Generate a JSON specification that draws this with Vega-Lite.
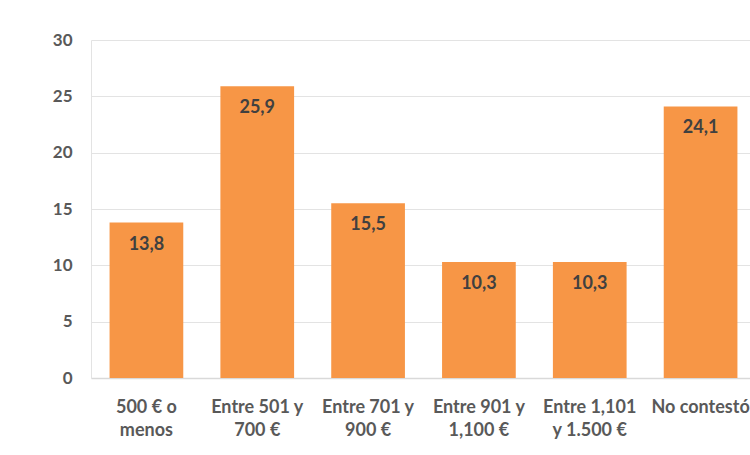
{
  "$schema": "https://vega.github.io/schema/vega-lite/v6.json",
  "autosize": {"type": "none"},
  "width": 659,
  "height": 338,
  "padding": {"left": 91, "top": 40, "right": 0, "bottom": 77},
  "background": "white",
  "config": {
    "locale": {"number": {"decimal": ",", "thousands": ".", "grouping": [3], "currency": ["", " €"]}},
    "view": {"stroke": null},
    "font": "Lato"
  },
  "data": {
    "values": [
      {"cat": "500 € o|menos", "value": 13.8},
      {"cat": "Entre 501 y|700 €", "value": 25.9},
      {"cat": "Entre 701 y|900 €", "value": 15.5},
      {"cat": "Entre 901 y|1,100 €", "value": 10.3},
      {"cat": "Entre 1,101|y 1.500 €", "value": 10.3},
      {"cat": "No contestó", "value": 24.1}
    ]
  },
  "encoding": {
    "x": {
      "field": "cat",
      "type": "nominal",
      "sort": null,
      "scale": {"range": [0, 665], "paddingInner": 0.335, "paddingOuter": 0.1675},
      "axis": {
        "title": null,
        "labelAngle": 0,
        "labelExpr": "split(datum.label, '|')",
        "labelFont": "Lato",
        "labelFontSize": 18,
        "labelFontWeight": "bold",
        "labelColor": "#595959",
        "labelPadding": 20,
        "labelLineHeight": 23,
        "labelBaseline": "top",
        "ticks": false,
        "domainColor": "#d9d9d9",
        "domainWidth": 1.5,
        "labelOverlap": false,
        "labelBound": false
      }
    },
    "y": {
      "field": "value",
      "type": "quantitative",
      "scale": {"domain": [0, 30]},
      "axis": {
        "title": null,
        "values": [0, 5, 10, 15, 20, 25, 30],
        "labelFont": "Lato",
        "labelFontSize": 17,
        "labelFontWeight": "bold",
        "labelColor": "#595959",
        "labelPadding": 19,
        "ticks": false,
        "domain": true,
        "domainColor": "#e3e3e3",
        "gridColor": "#e3e3e3",
        "gridWidth": 1
      }
    }
  },
  "layer": [
    {"mark": {"type": "bar", "color": "#F79646"}},
    {
      "mark": {"type": "text", "baseline": "top", "dy": 13, "font": "Lato", "fontSize": 18, "fontWeight": "bold", "color": "#404040"},
      "encoding": {"text": {"field": "value", "type": "quantitative", "format": ".1f"}}
    }
  ]
}
